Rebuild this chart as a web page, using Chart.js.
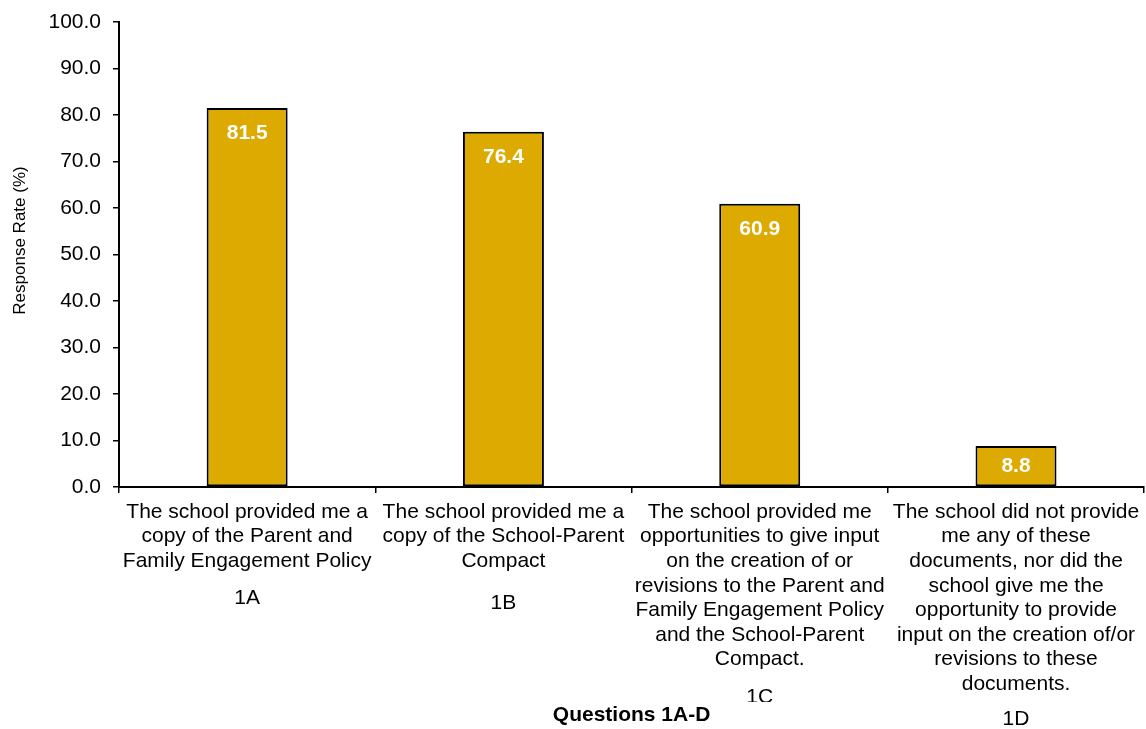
<!DOCTYPE html>
<html>
<head>
<meta charset="utf-8">
<script src="https://cdn.jsdelivr.net/npm/chart.js@4.4.1/dist/chart.umd.min.js"></script>
<style>
  html, body { margin: 0; padding: 0; background: #fff; }
  canvas { display: block; }
</style>
</head>
<body>
<canvas id="questions_bar" width="1146" height="729"></canvas>
<script>
const questionLines = [
    ['The school provided me a', 'copy of the Parent and', 'Family Engagement Policy'],
    ['The school provided me a', 'copy of the School-Parent', 'Compact'],
    ['The school provided me', 'opportunities to give input', 'on the creation of or', 'revisions to the Parent and', 'Family Engagement Policy', 'and the School-Parent', 'Compact.'],
    ['The school did not provide', 'me any of these', 'documents, nor did the', 'school give me the', 'opportunity to provide', 'input on the creation of/or', 'revisions to these', 'documents.']
];
const questionCodes = ['1A', '1B', '1C', '1D'];
const responseRates = [81.5, 76.4, 60.9, 8.8];

const FONT = '"Liberation Sans", Arial, sans-serif';
const LABEL_SIZE = 21;
const LINE_HEIGHT = 1.171;

/*** value labels inside the top of each bar ***/
const barValues = {
    id: 'barValues',
    afterDatasetsDraw(chart) {
        const ctx = chart.ctx;
        const meta = chart.getDatasetMeta(0);
        ctx.save();
        ctx.font = 'bold 21px ' + FONT;
        ctx.fillStyle = '#fff';
        ctx.textAlign = 'center';
        ctx.textBaseline = 'middle';
        meta.data.forEach(function(bar, i){
            let drop = Math.min(25, (bar.base - bar.y) / 2);
            ctx.fillText(responseRates[i].toFixed(1), bar.x, bar.y + drop);
        });
        ctx.restore();
    }
};

/*** rotated y title, a little above the middle of the axis ***/
const yTitle = {
    id: 'yTitle',
    afterDraw(chart, args, opts) {
        const ctx = chart.ctx;
        const area = chart.chartArea;
        ctx.save();
        ctx.translate(opts.x, (area.top + area.bottom) / 2 - opts.lift);
        ctx.rotate(-Math.PI / 2);
        ctx.font = '17px ' + FONT;
        ctx.fillStyle = '#000';
        ctx.textAlign = 'center';
        ctx.textBaseline = 'middle';
        ctx.fillText(opts.text, 0, 0);
        ctx.restore();
    }
};

/*** question codes under the category text ***/
const questionCodeLabels = {
    id: 'questionCodeLabels',
    afterDraw(chart, args, opts) {
        const ctx = chart.ctx;
        const x = chart.scales.x;
        const line = LABEL_SIZE * LINE_HEIGHT;
        ctx.save();
        ctx.font = LABEL_SIZE + 'px ' + FONT;
        ctx.fillStyle = '#000';
        ctx.textAlign = 'center';
        ctx.textBaseline = 'middle';
        questionCodes.forEach(function(code, i){
            let firstLine = x.top + opts.labelTop + line / 2;
            let lastLine = firstLine + (questionLines[i].length - 1) * line;
            let clip = opts.clipBottom[i];
            ctx.save();
            if (clip) {
                ctx.beginPath();
                ctx.rect(0, 0, chart.width, clip);
                ctx.clip();
            }
            ctx.fillText(code, x.getPixelForValue(i), lastLine + opts.gap[i]);
            ctx.restore();
        });
        ctx.restore();
    }
};

let ctx = document.getElementById('questions_bar').getContext('2d');

new Chart(ctx, {
    type: 'bar',
    data: {
        labels: questionLines,
        datasets: [{
            label: 'Response Rate',
            data: responseRates,
            backgroundColor: '#DCAA00',
            borderColor: '#000',
            borderWidth: 2,
            borderSkipped: false,
            barPercentage: 0.316,
            categoryPercentage: 1
        }]
    },
    options: {
        responsive: false,
        animation: false,
        layout: {
            padding: { top: 22, right: 1, left: 0, bottom: 0 }
        },
        plugins: {
            legend: { display: false },
            tooltip: { enabled: false },
            yTitle: { text: 'Response Rate (%)', x: 20, lift: 14 },
            questionCodeLabels: {
                labelTop: 12.7,
                gap: [37, 42, 38, 35],
                clipBottom: [null, null, 702, null]
            }
        },
        scales: {
            x: {
                grid: {
                    display: true,
                    drawOnChartArea: false,
                    drawTicks: true,
                    tickLength: 6,
                    color: '#000',
                    lineWidth: 1.5
                },
                border: { display: true, color: '#000', width: 2 },
                ticks: {
                    color: '#000',
                    padding: 6.7,
                    maxRotation: 0,
                    minRotation: 0,
                    autoSkip: false,
                    font: { family: FONT, size: LABEL_SIZE, lineHeight: LINE_HEIGHT }
                },
                title: {
                    display: true,
                    text: 'Questions 1A-D',
                    color: '#000',
                    padding: { top: 0, bottom: 1 },
                    font: { family: FONT, size: 21, weight: 'bold' }
                },
                afterFit: function(scale){
                    scale.height = 242;
                }
            },
            y: {
                min: 0,
                max: 100,
                grid: {
                    display: true,
                    drawOnChartArea: false,
                    drawTicks: true,
                    tickLength: 6,
                    color: '#000',
                    lineWidth: 1.5
                },
                border: { display: true, color: '#000', width: 2 },
                ticks: {
                    stepSize: 10,
                    color: '#000',
                    padding: 12,
                    font: { family: FONT, size: 21 },
                    callback: function(value){ return value.toFixed(1); }
                },
                afterFit: function(scale){
                    scale.width = 119;
                    // tick padding is horizontal here, keep it out of the top/bottom room
                    scale.paddingTop = 12;
                    scale.paddingBottom = 12;
                }
            }
        }
    },
    plugins: [barValues, yTitle, questionCodeLabels]
});
</script>
</body>
</html>
